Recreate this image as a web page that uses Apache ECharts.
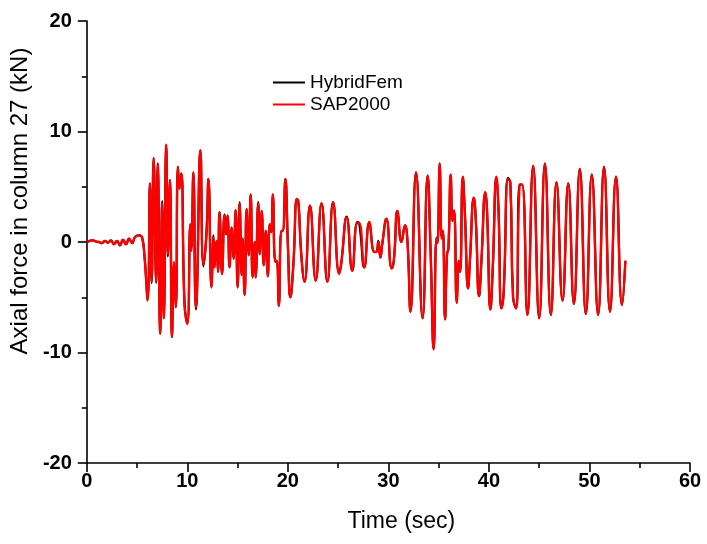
<!DOCTYPE html>
<html>
<head>
<meta charset="utf-8">
<script src="https://cdn.jsdelivr.net/npm/echarts@6/dist/echarts.min.js"></script>
<style>html,body{margin:0;padding:0;background:#fff}#c{width:707px;height:544px}</style>
</head>
<body>
<div id="c"></div>
<script>
const timeSec = [0,0.3,0.6,0.9,1.2,1.5,1.8,2.1,2.4,2.7,3.0,3.3,3.6,3.9,4.2,4.5,4.8,5.19,5.5,5.75,6.05,6.28,6.45,6.65,6.9,7.06,7.3,7.5,7.66,7.9,8.06,8.27,8.47,8.67,8.86,9.06,9.23,9.4,9.72,10.0,10.3,10.4,10.6,10.85,10.95,11.3,11.6,11.9,12.1,12.4,12.6,12.7,12.9,13.05,13.2,13.45,13.7,13.85,14.0,14.2,14.4,14.6,14.8,15.0,15.2,15.4,15.5,15.7,15.9,16.1,16.3,16.5,16.7,16.8,17.05,17.2,17.4,17.6,17.8,18.0,18.2,18.35,18.5,18.75,18.9,19.1,19.35,19.5,19.75,20.0,20.25,20.55,20.9,21.05,21.33,21.66,22.2,22.77,23.35,23.93,24.5,25.1,25.3,25.85,26.4,26.9,27.1,27.6,28.1,28.6,28.8,29.0,29.2,29.4,29.8,30.33,30.55,30.9,31.3,31.65,31.9,32.2,32.75,33.4,33.9,34.2,34.5,34.78,34.88,35.1,35.3,35.42,35.63,35.83,35.97,36.2,36.37,36.53,36.8,37.0,37.13,37.4,37.6,37.93,38.1,38.5,38.7,39.02,39.25,39.65,39.81,40.15,40.38,40.75,40.95,41.24,41.47,41.9,42.13,42.4,42.7,43.05,43.3,43.83,44.4,45.0,45.57,46.16,46.72,47.32,47.89,48.45,49.04,49.64,50.23,50.86,51.45,52.04,52.64,53.24,53.57];

const sap2000 = [0,0.1,0.15,0.05,0,-0.1,0.1,-0.05,0.15,-0.2,0.1,-0.3,0.2,-0.2,0.3,-0.1,0.45,0.6,0.4,-1.4,-5.3,5.3,-3.6,7.6,-3.6,7.1,-8.3,3.5,-6.9,8.8,-1.1,5.6,-8.6,-1.8,-5.9,6.8,4.8,6.2,-5.6,-7.4,1.6,-0.8,6.3,-5.9,-4.9,8.3,-2.0,0.6,5.7,-4.1,0.4,-2.3,0.1,-2.7,2.7,-2.9,2.4,0.7,2.4,-2.3,1.3,-1.5,2.9,-4.1,3.5,-3.0,0.3,-4.8,3.0,-1.2,4.3,-3.2,0.0,-3.2,3.5,-1.1,2.8,-2.1,1.0,-3.1,1.6,0.9,4.3,-1.8,-1.7,-5.8,1.0,1.0,5.7,-0.2,-5.0,-2.0,3.9,3.6,-1.1,-3.6,3.3,-3.5,3.5,-3.6,3.6,-2.9,-2.0,2.2,-2.6,1.7,1.7,-2.3,1.8,-0.9,-0.9,0.0,-1.4,-0.1,2.1,-2.4,-1.6,2.8,0.0,1.5,0.0,-6.3,6.3,-6.9,6.0,-0.9,-9.7,0.3,-0.1,7.1,0.3,1.0,-7.0,-1.1,-0.6,6.1,1.9,2.85,-5.5,-1.7,-2.7,5.9,2.7,-4.2,-1.8,4.0,1.9,-4.9,-1.7,4.5,2.85,-6.1,-2.3,5.9,3.0,-6.0,-4.4,5.7,5.35,-5.0,-6.0,5.1,5.2,-6.6,6.9,-6.9,7.1,-6.6,5.4,-5.3,5.3,-5.6,6.6,-6.5,6.1,-6.6,6.8,-6.3,5.9,-5.7,-1.7];

const hybridFem = [0,0.1,0.15,0.05,0,-0.1,0.1,-0.05,0.15,-0.2,0.1,-0.3,0.2,-0.2,0.3,-0.1,0.45,0.6,0.4,-1.4,-5.2,5.3,-3.7,7.6,-3.7,7.1,-8.3,3.7,-6.9,8.8,-1.3,5.6,-8.6,-2.0,-5.9,6.8,5.0,6.2,-5.6,-7.4,1.6,-0.6,6.3,-6.1,-4.9,8.3,-2.2,0.8,5.7,-4.1,0.6,-2.3,0.1,-2.7,2.7,-2.9,2.5,0.7,2.4,-2.3,1.3,-1.5,2.9,-4.1,3.6,-3.0,0.3,-4.8,3.0,-1.2,4.3,-3.2,0.0,-3.2,3.6,-1.1,2.8,-2.1,1.0,-3.1,1.6,0.9,4.3,-1.8,-1.7,-5.8,1.0,1.0,5.7,-0.2,-5.0,-2.0,3.9,3.6,-1.1,-3.6,3.3,-3.5,3.5,-3.6,3.6,-2.8,-2.0,2.3,-2.6,1.8,1.7,-2.3,1.8,-0.9,-0.9,0.1,-1.4,-0.1,2.1,-2.4,-1.6,2.8,0.0,1.5,0.0,-6.3,6.3,-6.9,6.0,-0.9,-9.7,0.4,-0.1,7.1,0.4,1.0,-7.0,-1.1,-0.6,6.1,2.0,2.85,-5.5,-1.8,-2.7,5.9,2.8,-4.2,-1.9,4.0,1.9,-4.9,-1.8,4.5,2.85,-6.1,-2.4,5.9,3.0,-6.0,-4.5,5.8,5.35,-5.0,-6.0,5.2,5.2,-6.6,6.9,-6.9,7.1,-6.6,5.4,-5.3,5.3,-5.6,6.6,-6.5,6.1,-6.6,6.8,-6.3,5.9,-5.7,-1.7];

const xTicks = {min: 0, max: 60, interval: 10};
const yTicks = {min: -20, max: 20, interval: 10};
const seriesNames = ['HybridFem', 'SAP2000'];
const xName = 'Time (sec)';
const yName = 'Axial force in column 27 (kN)';

function pairs(vals){
  const n = Math.min(timeSec.length, vals.length);
  const out = [];
  for (let i = 0; i < n; i++) out.push([timeSec[i], vals[i]]);
  return out;
}

const FONT = '"Liberation Sans", Arial, sans-serif';
const chart = echarts.init(document.getElementById('c'), null, {renderer: 'canvas'});
const axisCommon = {
  axisLine: {show: true, onZero: false, lineStyle: {color: '#000', width: 1.6}},
  axisTick: {show: true, inside: false, length: 9, lineStyle: {color: '#000', width: 1.6}},
  minorTick: {show: true, splitNumber: 2, length: 5, lineStyle: {color: '#000', width: 1.6}},
  splitLine: {show: false},
  minorSplitLine: {show: false},
  axisLabel: {color: '#000', fontFamily: FONT, fontWeight: 'bold', fontSize: 20}
};
chart.setOption({
  animation: false,
  backgroundColor: '#fff',
  grid: {left: 86, right: 17, top: 21, bottom: 81, containLabel: false},
  legend: {
    orient: 'vertical', left: 268, top: 68, itemWidth: 32, itemHeight: 2, itemGap: 3,
    icon: 'rect',
    textStyle: {fontFamily: FONT, fontSize: 19, color: '#000'},
    data: seriesNames
  },
  xAxis: Object.assign({}, axisCommon, {
    type: 'value', min: xTicks.min, max: xTicks.max, interval: xTicks.interval,
    name: xName, nameLocation: 'middle', nameGap: 47,
    nameTextStyle: {fontFamily: FONT, fontSize: 23, color: '#000', padding: [0, 0, 0, 26]},
    axisLabel: Object.assign({}, axisCommon.axisLabel, {margin: 8})
  }),
  yAxis: Object.assign({}, axisCommon, {
    type: 'value', min: yTicks.min, max: yTicks.max, interval: yTicks.interval,
    name: yName, nameLocation: 'middle', nameGap: 51,
    nameTextStyle: {fontFamily: FONT, fontSize: 24, color: '#000', padding: [0, 0, 0, 82]},
    axisLabel: Object.assign({}, axisCommon.axisLabel, {margin: 15})
  }),
  series: [
    {name: seriesNames[0], type: 'line', data: pairs(hybridFem), symbol: 'none', smooth: 0.5,
     lineStyle: {color: '#000', width: 2.2}, itemStyle: {color: '#000'}},
    {name: seriesNames[1], type: 'line', data: pairs(sap2000), symbol: 'none', smooth: 0.5,
     lineStyle: {color: '#ff0000', width: 2.4}, itemStyle: {color: '#ff0000'}}
  ]
});
</script>
</body>
</html>
